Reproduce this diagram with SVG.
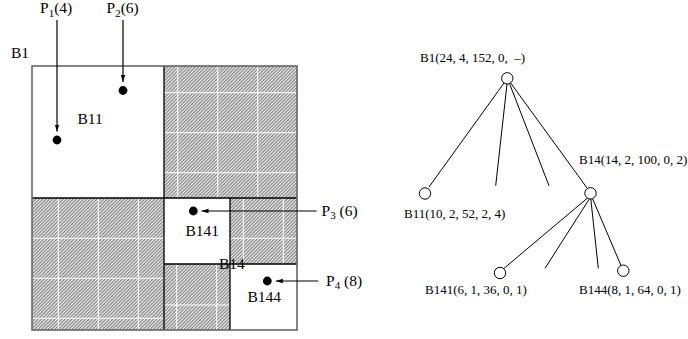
<svg xmlns="http://www.w3.org/2000/svg" width="688" height="339" viewBox="0 0 688 339">
<style>
.t{font-family:"Liberation Serif","Times New Roman",serif;fill:#000}
.big{font-size:15.5px}
.sm{font-size:13px}
.sub{font-size:11px}
.hatch{fill:url(#h)}
.white{fill:#fff}
.grid{stroke:#fff;stroke-width:1;fill:none}
.div{stroke:#000;stroke-width:1.3;fill:none}
.arr{stroke:#000;stroke-width:1.2;fill:none;marker-end:url(#ah)}
.edge{stroke:#000;stroke-width:1;fill:none}
.node{fill:#fff;stroke:#000;stroke-width:1}
</style>
<defs>
<pattern id="h" patternUnits="userSpaceOnUse" width="2.4" height="2.4" patternTransform="rotate(45)">
<rect width="2.4" height="2.4" fill="#eeeeee"/>
<line x1="0.6" y1="0" x2="0.6" y2="2.4" stroke="#7a7a7a" stroke-width="1.1"/>
</pattern>
<marker id="ah" markerWidth="8" markerHeight="6" refX="7" refY="3" orient="auto" markerUnits="userSpaceOnUse">
<path d="M0,0.8 L7,3 L0,5.2 z" fill="#000"/>
</marker>
</defs>
<rect width="688" height="339" fill="#fff"/>

<g id="plan">
<rect class="white" x="32" y="66" width="132" height="132"/>
<rect class="hatch" x="164" y="66" width="133" height="132"/>
<rect class="hatch" x="32" y="198" width="132" height="132"/>
<rect class="white" x="164" y="198" width="66" height="66"/>
<rect class="hatch" x="230" y="198" width="67" height="66"/>
<rect class="hatch" x="164" y="264" width="66" height="66"/>
<rect class="white" x="230" y="264" width="67" height="66"/>
<g class="grid">
<path d="M177.7,66V198M217.7,66V198M257.7,66V198M164,92.7H297M164,132.7H297M164,172.7H297"/>
<path d="M58.3,198V330M98.3,198V330M138.3,198V330M32,238.3H164M32,278.3H164M32,318.3H164"/>
<path d="M243.3,198V264M283.3,198V264M230,238.3H297"/>
<path d="M176.7,264V330M216.7,264V330M164,305H230"/>
</g>
<path class="div" d="M164,66V330M32,198H297M230,198V330M164,264H297"/>
<rect x="32" y="66" width="265" height="264" fill="none" stroke="#666" stroke-width="1.6"/>
<text class="t big" x="11" y="57.5">B1</text>
<text class="t big" x="77.5" y="124">B11</text>
<text class="t big" x="185.5" y="235.7">B141</text>
<text class="t big" x="219" y="269">B14</text>
<text class="t big" x="247.5" y="301.7">B144</text>
</g>

<g id="points">
<circle cx="57" cy="140" r="4.4"/>
<circle cx="123" cy="90.5" r="4.4"/>
<circle cx="193.3" cy="211" r="4.4"/>
<circle cx="267.3" cy="281" r="4.4"/>
<text class="t big" x="40" y="13">P<tspan class="sub" dy="3.5">1</tspan><tspan dy="-3.5">(4)</tspan></text>
<text class="t big" x="106.5" y="13">P<tspan class="sub" dy="3.5">2</tspan><tspan dy="-3.5">(6)</tspan></text>
<text class="t big" x="321.5" y="215.5">P<tspan class="sub" dy="3.5">3</tspan><tspan dy="-3.5"> (6)</tspan></text>
<text class="t big" x="326" y="285.5">P<tspan class="sub" dy="3.5">4</tspan><tspan dy="-3.5"> (8)</tspan></text>
</g>

<g id="arrows">
<line class="arr" x1="57" y1="20" x2="57" y2="131.5"/>
<line class="arr" x1="123" y1="20" x2="123" y2="82"/>
<line class="arr" x1="316.7" y1="211" x2="201.5" y2="211"/>
<line class="arr" x1="318.3" y1="281" x2="275.8" y2="281"/>
</g>

<g id="connectors">
<line class="edge" x1="504" y1="83" x2="429" y2="187"/>
<line class="edge" x1="507" y1="84" x2="495.7" y2="185.7"/>
<line class="edge" x1="509.5" y1="83.5" x2="549" y2="185.7"/>
<line class="edge" x1="510.6" y1="82.9" x2="587.4" y2="188.5"/>
<line class="edge" x1="587.5" y1="198" x2="503.5" y2="268.8"/>
<line class="edge" x1="589.3" y1="199" x2="545" y2="268.3"/>
<line class="edge" x1="590.8" y1="199" x2="598.3" y2="268.3"/>
<line class="edge" x1="592.5" y1="198.5" x2="621" y2="265.5"/>
</g>

<g id="B1node">
<circle class="node" cx="507.3" cy="78.3" r="5.7"/>
<text class="t sm" x="420" y="61.5">B1(24, 4, 152, 0, &#160;–)</text>
</g>
<g id="B11node">
<circle class="node" cx="425" cy="193.5" r="5.7"/>
<text class="t sm" x="404" y="218.3">B11(10, 2, 52, 2, 4)</text>
</g>
<g id="B14node">
<circle class="node" cx="590.5" cy="193.3" r="5.7"/>
<text class="t sm" x="579" y="163.5">B14(14, 2, 100, 0, 2)</text>
</g>
<g id="B141node">
<circle class="node" cx="500" cy="273" r="5.7"/>
<text class="t sm" x="425" y="294.3">B141(6, 1, 36, 0, 1)</text>
</g>
<g id="B144node">
<circle class="node" cx="623.3" cy="270.7" r="5.7"/>
<text class="t sm" x="579" y="294.3">B144(8, 1, 64, 0, 1)</text>
</g>
</svg>
